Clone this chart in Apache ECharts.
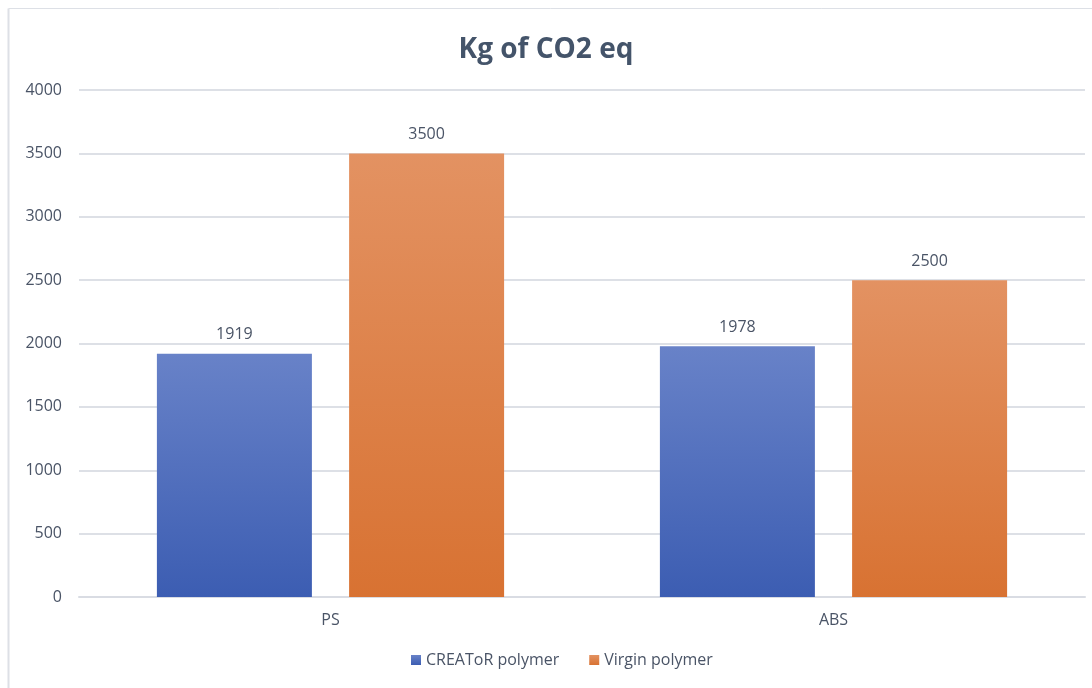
<!DOCTYPE html>
<html>
<head>
<meta charset="utf-8">
<script src="https://cdn.jsdelivr.net/npm/echarts@6/dist/echarts.min.js"></script>
<style>
  html, body { margin: 0; padding: 0; background: #fff; }
  #chart { width: 1092px; height: 688px; }
</style>
</head>
<body>
<div id="chart"></div>
<script>
const categories = ['PS', 'ABS'];
const creatorValues = [1919, 1978];
const virginValues = [3500, 2500];
const seriesNames = ['CREAToR polymer', 'Virgin polymer'];

const textColor = '#4a5466';
const font = 'Open Sans, Lato, sans-serif';

const myChart = echarts.init(document.getElementById('chart'));

const grad = (top, bottom) => new echarts.graphic.LinearGradient(0, 0, 0, 1, [
  { offset: 0, color: top },
  { offset: 1, color: bottom }
]);

const option = {
  animation: false,
  backgroundColor: '#fff',
  textStyle: { fontFamily: font },
  title: {
    text: 'Kg of CO2 eq',
    left: 'center',
    top: 31,
    textStyle: { fontSize: 28, fontWeight: 'bold', color: '#44546a', fontFamily: font }
  },
  legend: {
    bottom: 15,
    left: 406,
    itemWidth: 10,
    itemHeight: 10,
    itemGap: 30,
    icon: 'rect',
    textStyle: { fontSize: 16, color: textColor },
    data: seriesNames
  },
  graphic: [
    { type: 'line', shape: { x1: 8.5, y1: 8.5, x2: 1092, y2: 8.5 }, style: { stroke: '#dde0e6', lineWidth: 1 } },
    { type: 'line', shape: { x1: 8.5, y1: 8.5, x2: 8.5, y2: 688 }, style: { stroke: '#dde0e6', lineWidth: 2 } }
  ],
  grid: { left: 79, right: 7, top: 90, bottom: 91, containLabel: false },
  xAxis: {
    type: 'category',
    data: categories,
    axisTick: { show: false },
    axisLine: { lineStyle: { color: '#d9dce3', width: 2 } },
    axisLabel: { fontSize: 16, color: textColor, margin: 15 }
  },
  yAxis: {
    type: 'value',
    min: 0,
    max: 4000,
    interval: 500,
    axisLine: { show: false },
    axisTick: { show: false },
    splitLine: { lineStyle: { color: '#dde0e6', width: 2 } },
    axisLabel: { fontSize: 16, color: textColor, margin: 17, formatter: v => String(v) }
  },
  series: [
    {
      name: seriesNames[0],
      type: 'bar',
      data: creatorValues,
      barWidth: 155,
      barGap: '24%',
      itemStyle: { color: grad('#6882c8', '#3c5db2') },
      label: { show: true, position: 'top', distance: 11, fontSize: 16, color: textColor }
    },
    {
      name: seriesNames[1],
      type: 'bar',
      data: virginValues,
      barWidth: 155,
      barGap: '24%',
      itemStyle: { color: grad('#e39262', '#d87232') },
      label: { show: true, position: 'top', distance: 11, fontSize: 16, color: textColor }
    }
  ]
};
myChart.setOption(option);
</script>
</body>
</html>
